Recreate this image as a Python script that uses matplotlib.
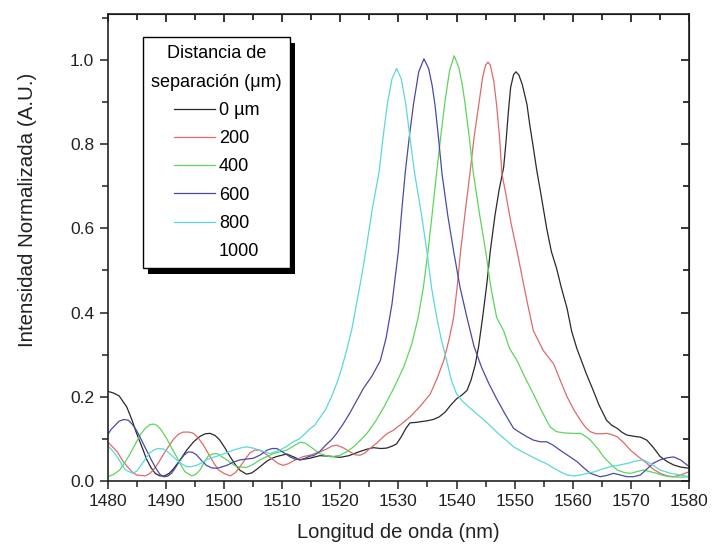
import matplotlib
matplotlib.use('Agg')
import matplotlib.pyplot as plt
from matplotlib.patches import Rectangle

# wavelength (nm) / normalized intensity
wl_0 = [1480.0, 1481.0, 1482.0, 1483.3, 1484.2, 1485.0, 1486.0, 1486.7, 1487.5, 1488.2,
        1489.0, 1489.8, 1490.6, 1491.3, 1492.4, 1493.6, 1494.8, 1495.9, 1496.8, 1497.6,
        1498.5, 1499.3, 1500.2, 1501.1, 1502.0, 1502.8, 1503.9, 1504.8, 1505.6, 1506.5,
        1507.4, 1508.3, 1509.1, 1510.8, 1512.0, 1513.1, 1514.8, 1516.5, 1518.0, 1520.0,
        1521.5, 1523.0, 1524.5, 1525.7, 1527.0, 1528.0, 1529.0, 1529.7, 1530.5, 1531.3,
        1532.0, 1533.0, 1534.0, 1535.0, 1536.0, 1537.0, 1538.0, 1539.0, 1540.0, 1541.0,
        1541.8, 1542.5, 1543.2, 1543.8, 1544.5, 1545.2, 1545.8, 1546.6, 1547.3, 1548.1,
        1548.5, 1548.9, 1549.3, 1549.8, 1550.2, 1550.7, 1551.3, 1552.1, 1552.6, 1553.2,
        1553.8, 1554.4, 1555.5, 1556.3, 1557.2, 1558.0, 1559.0, 1559.8, 1560.7, 1561.3,
        1562.3, 1563.5, 1564.5, 1565.8, 1566.7, 1567.6, 1568.5, 1569.3, 1570.5, 1571.6,
        1572.7, 1573.8, 1575.0, 1576.2, 1577.3, 1578.5, 1580.0]
int_0 = [0.213, 0.209, 0.202, 0.176, 0.145, 0.113, 0.078, 0.052, 0.031, 0.018,
         0.012, 0.012, 0.018, 0.028, 0.048, 0.073, 0.093, 0.106, 0.112, 0.113,
         0.108, 0.097, 0.078, 0.057, 0.038, 0.025, 0.016, 0.019, 0.027, 0.037,
         0.047, 0.054, 0.058, 0.064, 0.057, 0.050, 0.054, 0.060, 0.059, 0.056,
         0.060, 0.068, 0.075, 0.079, 0.077, 0.078, 0.083, 0.088, 0.105, 0.125,
         0.138, 0.139, 0.141, 0.143, 0.146, 0.152, 0.163, 0.180, 0.195, 0.205,
         0.215, 0.240, 0.275, 0.320, 0.390, 0.467, 0.546, 0.630, 0.690, 0.745,
         0.805, 0.875, 0.935, 0.965, 0.972, 0.965, 0.942, 0.895, 0.845, 0.792,
         0.737, 0.690, 0.600, 0.545, 0.505, 0.460, 0.410, 0.355, 0.314, 0.292,
         0.255, 0.215, 0.180, 0.144, 0.132, 0.125, 0.115, 0.109, 0.106, 0.104,
         0.097, 0.080, 0.058, 0.046, 0.038, 0.033, 0.030]

wl_200 = [1480.0, 1480.8, 1481.7, 1482.5, 1483.4, 1484.2, 1485.0, 1486.5, 1487.2, 1487.9,
          1488.8, 1489.7, 1490.6, 1491.4, 1492.2, 1493.0, 1494.0, 1494.8, 1495.7, 1496.5,
          1497.4, 1498.3, 1499.1, 1500.0, 1501.1, 1502.0, 1502.8, 1503.7, 1504.5, 1505.3,
          1506.2, 1507.4, 1508.5, 1509.4, 1510.2, 1511.1, 1512.0, 1513.7, 1514.8, 1516.5,
          1517.7, 1518.6, 1519.4, 1520.5, 1521.7, 1522.6, 1523.4, 1524.2, 1525.1, 1526.3,
          1527.2, 1528.0, 1529.1, 1530.5, 1532.0, 1533.8, 1535.5, 1536.7, 1537.8, 1538.7,
          1539.5, 1540.1, 1540.7, 1541.5, 1542.3, 1543.0, 1543.8, 1544.5, 1545.0, 1545.4,
          1545.8, 1546.4, 1546.9, 1547.4, 1547.8, 1548.5, 1549.4, 1550.4, 1551.2, 1552.1,
          1553.2, 1554.9, 1556.7, 1557.8, 1559.0, 1560.2, 1561.3, 1562.2, 1563.0, 1564.0,
          1565.0, 1565.8, 1566.7, 1567.6, 1568.8, 1569.9, 1571.3, 1572.7, 1573.8, 1575.0,
          1576.2, 1577.3, 1578.5, 1580.0]
int_200 = [0.093, 0.082, 0.069, 0.050, 0.034, 0.022, 0.014, 0.012, 0.017, 0.026,
           0.044, 0.065, 0.084, 0.100, 0.111, 0.116, 0.116, 0.113, 0.100, 0.085,
           0.063, 0.042, 0.026, 0.018, 0.012, 0.020, 0.034, 0.052, 0.067, 0.073,
           0.073, 0.062, 0.050, 0.041, 0.037, 0.041, 0.048, 0.058, 0.061, 0.069,
           0.076, 0.083, 0.085, 0.079, 0.069, 0.062, 0.061, 0.066, 0.077, 0.090,
           0.102, 0.112, 0.120, 0.135, 0.152, 0.178, 0.207, 0.245, 0.286, 0.335,
           0.388, 0.460, 0.546, 0.640, 0.730, 0.815, 0.892, 0.960, 0.988, 0.995,
           0.988, 0.950, 0.892, 0.815, 0.730, 0.680, 0.610, 0.546, 0.490, 0.428,
           0.357, 0.310, 0.278, 0.240, 0.200, 0.168, 0.144, 0.127, 0.117, 0.112,
           0.112, 0.113, 0.110, 0.105, 0.090, 0.073, 0.057, 0.042, 0.028, 0.018,
           0.012, 0.010, 0.014, 0.022]

wl_400 = [1480.0, 1481.0, 1482.1, 1483.0, 1483.9, 1484.8, 1485.6, 1486.5, 1487.3, 1488.0,
          1488.5, 1489.3, 1490.2, 1491.0, 1491.9, 1492.6, 1493.3, 1494.5, 1495.2, 1495.9,
          1496.6, 1497.3, 1498.0, 1498.8, 1499.6, 1500.5, 1501.4, 1502.2, 1503.9, 1505.0,
          1506.2, 1507.4, 1508.5, 1510.8, 1512.0, 1513.1, 1514.0, 1515.0, 1516.5, 1518.3,
          1520.0, 1521.2, 1522.3, 1523.5, 1524.6, 1526.0, 1527.5, 1529.2, 1530.9, 1532.3,
          1533.4, 1534.3, 1535.1, 1535.9, 1536.6, 1537.3, 1538.0, 1538.8, 1539.6, 1540.4,
          1541.0, 1541.5, 1542.2, 1542.9, 1544.0, 1545.0, 1545.9, 1546.9, 1548.1, 1549.1,
          1550.4, 1551.8, 1553.2, 1554.6, 1556.1, 1557.2, 1558.5, 1560.0, 1561.3, 1562.2,
          1563.0, 1564.2, 1565.3, 1566.5, 1567.6, 1568.8, 1569.9, 1571.0, 1572.1, 1573.3,
          1574.4, 1575.5, 1576.7, 1578.5, 1580.0]
int_400 = [0.010, 0.015, 0.026, 0.044, 0.065, 0.088, 0.109, 0.125, 0.134, 0.135,
           0.132, 0.120, 0.100, 0.079, 0.057, 0.038, 0.022, 0.012, 0.016, 0.026,
           0.043, 0.059, 0.064, 0.065, 0.058, 0.050, 0.041, 0.034, 0.032, 0.039,
           0.050, 0.058, 0.065, 0.073, 0.083, 0.092, 0.090, 0.080, 0.065, 0.057,
           0.061, 0.070, 0.081, 0.097, 0.113, 0.140, 0.175, 0.220, 0.270, 0.325,
           0.388, 0.460, 0.546, 0.645, 0.735, 0.820, 0.900, 0.975, 1.010, 0.982,
           0.940, 0.893, 0.815, 0.730, 0.630, 0.546, 0.460, 0.388, 0.357, 0.315,
           0.286, 0.245, 0.207, 0.167, 0.128, 0.117, 0.114, 0.113, 0.113, 0.106,
           0.097, 0.078, 0.057, 0.040, 0.026, 0.020, 0.018, 0.022, 0.026, 0.022,
           0.018, 0.013, 0.010, 0.009, 0.010]

wl_600 = [1480.0, 1480.6, 1481.3, 1482.0, 1482.8, 1483.6, 1484.3, 1485.0, 1485.8, 1486.7,
          1487.6, 1488.5, 1489.0, 1489.6, 1490.3, 1491.0, 1491.8, 1492.5, 1493.2, 1493.9,
          1494.6, 1495.3, 1496.2, 1497.0, 1497.9, 1498.8, 1499.6, 1500.5, 1501.7, 1502.8,
          1504.0, 1505.1, 1506.3, 1507.4, 1508.3, 1509.1, 1510.2, 1511.4, 1512.2, 1513.1,
          1514.0, 1514.8, 1515.4, 1516.5, 1517.5, 1518.5, 1519.4, 1520.5, 1521.6, 1522.8,
          1524.0, 1525.5, 1526.9, 1527.9, 1528.9, 1530.0, 1530.6, 1531.2, 1531.9, 1532.6,
          1533.5, 1534.4, 1535.2, 1535.8, 1536.3, 1536.9, 1537.5, 1538.5, 1539.5, 1540.6,
          1541.8, 1543.0, 1544.3, 1545.6, 1546.9, 1548.3, 1549.8, 1550.9, 1552.1, 1553.2,
          1554.4, 1555.5, 1556.6, 1557.8, 1559.2, 1560.7, 1561.8, 1563.0, 1564.7, 1565.8,
          1567.0, 1568.2, 1569.3, 1570.4, 1571.6, 1572.7, 1573.8, 1575.0, 1576.2, 1577.3,
          1578.5, 1580.0]
int_600 = [0.109, 0.122, 0.132, 0.142, 0.146, 0.144, 0.134, 0.120, 0.098, 0.073,
           0.048, 0.026, 0.016, 0.010, 0.011, 0.018, 0.034, 0.050, 0.062, 0.069,
           0.068, 0.062, 0.048, 0.037, 0.031, 0.030, 0.033, 0.037, 0.045, 0.050,
           0.052, 0.054, 0.062, 0.073, 0.077, 0.077, 0.068, 0.057, 0.052, 0.050,
           0.054, 0.059, 0.060, 0.070, 0.085, 0.098, 0.113, 0.135, 0.160, 0.190,
           0.220, 0.250, 0.286, 0.340, 0.420, 0.546, 0.645, 0.735, 0.820, 0.895,
           0.972, 1.003, 0.980, 0.940, 0.893, 0.815, 0.730, 0.630, 0.546, 0.460,
           0.388, 0.320, 0.270, 0.230, 0.195, 0.160, 0.125, 0.115, 0.105, 0.097,
           0.093, 0.093, 0.085, 0.073, 0.060, 0.046, 0.032, 0.018, 0.010, 0.013,
           0.018, 0.014, 0.010, 0.010, 0.014, 0.028, 0.042, 0.050, 0.055, 0.057,
           0.050, 0.034]

wl_800 = [1480.0, 1480.9, 1481.7, 1482.4, 1483.1, 1484.3, 1485.0, 1485.6, 1486.5, 1487.3,
          1488.0, 1488.7, 1489.5, 1490.2, 1491.0, 1491.9, 1492.8, 1493.6, 1494.5, 1495.3,
          1496.2, 1497.0, 1498.2, 1499.3, 1500.5, 1501.6, 1502.8, 1503.9, 1505.0, 1506.2,
          1507.9, 1509.6, 1510.8, 1511.9, 1513.0, 1513.7, 1514.8, 1515.6, 1516.5, 1517.5,
          1518.5, 1519.5, 1520.3, 1521.1, 1522.0, 1522.8, 1523.6, 1524.4, 1525.5, 1526.7,
          1527.4, 1528.1, 1528.9, 1529.7, 1530.5, 1531.3, 1532.0, 1532.8, 1533.9, 1534.9,
          1535.7, 1536.6, 1537.4, 1538.3, 1539.1, 1540.0, 1541.0, 1542.0, 1543.0, 1544.1,
          1545.5, 1547.0, 1548.5, 1549.8, 1551.2, 1552.6, 1554.0, 1555.3, 1556.5, 1557.8,
          1559.0, 1560.2, 1561.3, 1562.5, 1563.8, 1565.0, 1566.5, 1568.1, 1569.5, 1570.8,
          1572.1, 1573.5, 1575.0, 1576.8, 1578.5, 1580.0]
int_800 = [0.085, 0.071, 0.057, 0.040, 0.026, 0.018, 0.023, 0.034, 0.052, 0.067,
           0.074, 0.077, 0.076, 0.071, 0.061, 0.050, 0.040, 0.034, 0.034, 0.037,
           0.043, 0.050, 0.056, 0.061, 0.067, 0.073, 0.078, 0.081, 0.078, 0.073,
           0.065, 0.073, 0.082, 0.093, 0.100, 0.109, 0.124, 0.132, 0.150, 0.170,
           0.200, 0.235, 0.270, 0.310, 0.360, 0.420, 0.480, 0.546, 0.645, 0.735,
           0.820, 0.895, 0.955, 0.980, 0.955, 0.893, 0.815, 0.730, 0.640, 0.546,
           0.460, 0.388, 0.335, 0.286, 0.240, 0.207, 0.190, 0.177, 0.165, 0.152,
           0.135, 0.115, 0.097, 0.081, 0.070, 0.060, 0.050, 0.042, 0.032, 0.022,
           0.014, 0.012, 0.014, 0.018, 0.022, 0.028, 0.034, 0.038, 0.042, 0.047,
           0.050, 0.040, 0.026, 0.018, 0.014, 0.010]

# 1000 um appears only in the legend (no visible trace)
wl_1000 = []
int_1000 = []

labels = ['0 µm', '200', '400', '600', '800', '1000']
colors = ['#2a2a2a', '#de6a6a', '#5cd65c', '#4a4aa6', '#5cd8d8', 'white']

x_ticks = [1480, 1490, 1500, 1510, 1520, 1530, 1540, 1550, 1560, 1570, 1580]
y_ticks = [0.0, 0.2, 0.4, 0.6, 0.8, 1.0]


def draw_shadow(fig, ax, leg):
    fig.canvas.draw()
    bb = leg.get_frame().get_window_extent()
    shadow = Rectangle((bb.x0 + 5, bb.y0 - 6), bb.width, bb.height,
                       transform=None, facecolor='black', edgecolor='none', zorder=4.9)
    ax.add_patch(shadow)


def main():
    plt.rcParams['font.family'] = ['Liberation Sans', 'DejaVu Sans']
    fig = plt.figure(figsize=(7.12, 5.49), dpi=100)
    ax = fig.add_axes([0.151, 0.124, 0.817, 0.851])

    series = [(wl_0, int_0), (wl_200, int_200), (wl_400, int_400),
              (wl_600, int_600), (wl_800, int_800), (wl_1000, int_1000)]
    for (x, y), lab, c in zip(series, labels, colors):
        ax.plot(x, y, color=c, lw=0.9, label=lab)

    ax.set_xlim(1480, 1580)
    ax.set_ylim(0, 1.11)
    ax.set_xticks(x_ticks)
    ax.set_yticks(y_ticks)
    ax.set_yticklabels(['%.1f' % v for v in y_ticks])
    ax.set_xticks([v + 5 for v in x_ticks[:-1]], minor=True)
    ax.set_yticks([0.1, 0.3, 0.5, 0.7, 0.9, 1.1], minor=True)

    ax.tick_params(which='both', direction='out', top=False, right=False,
                   labelsize=12.5, width=1.1, colors='#222222')
    ax.tick_params(which='major', length=6)
    ax.tick_params(which='minor', length=4)
    for s in ax.spines.values():
        s.set_linewidth(1.2)
        s.set_color('#222222')

    # inward ticks on the right/top side of the box
    ax2 = ax.secondary_yaxis('right')
    ax2.set_yticks(y_ticks)
    ax2.set_yticks([0.1, 0.3, 0.5, 0.7, 0.9], minor=True)
    ax2.tick_params(which='both', direction='in', labelright=False, width=1.1)
    ax2.tick_params(which='major', length=6)
    ax2.tick_params(which='minor', length=4)
    ax3 = ax.secondary_xaxis('top')
    ax3.set_xticks(x_ticks)
    ax3.set_xticks([v + 5 for v in x_ticks[:-1]], minor=True)
    ax3.tick_params(which='both', direction='in', labeltop=False, width=1.1)
    ax3.tick_params(which='major', length=6)
    ax3.tick_params(which='minor', length=4)

    ax.set_xlabel('Longitud de onda (nm)', fontsize=14.5, labelpad=10, color='#222222')
    ax.set_ylabel('Intensidad Normalizada (A.U.)', fontsize=14.8, color='#222222')
    ax.yaxis.set_label_coords(-0.121, 0.58)

    leg = ax.legend(title='Distancia de\nseparación (μm)', loc='upper left',
                    bbox_to_anchor=(0.061, 0.95), borderaxespad=0, fontsize=13,
                    title_fontsize=13, fancybox=False, framealpha=1,
                    edgecolor='black', handlelength=2.3, handletextpad=0.2,
                    labelspacing=0.62, borderpad=0.45)
    leg.get_frame().set_linewidth(1.0)
    leg.get_title().set_multialignment('center')
    leg.get_title().set_linespacing(1.9)
    leg.set_zorder(5)
    draw_shadow(fig, ax, leg)

    fig.savefig('out.png', dpi=100)
    return


if __name__ == '__main__':
    main()
